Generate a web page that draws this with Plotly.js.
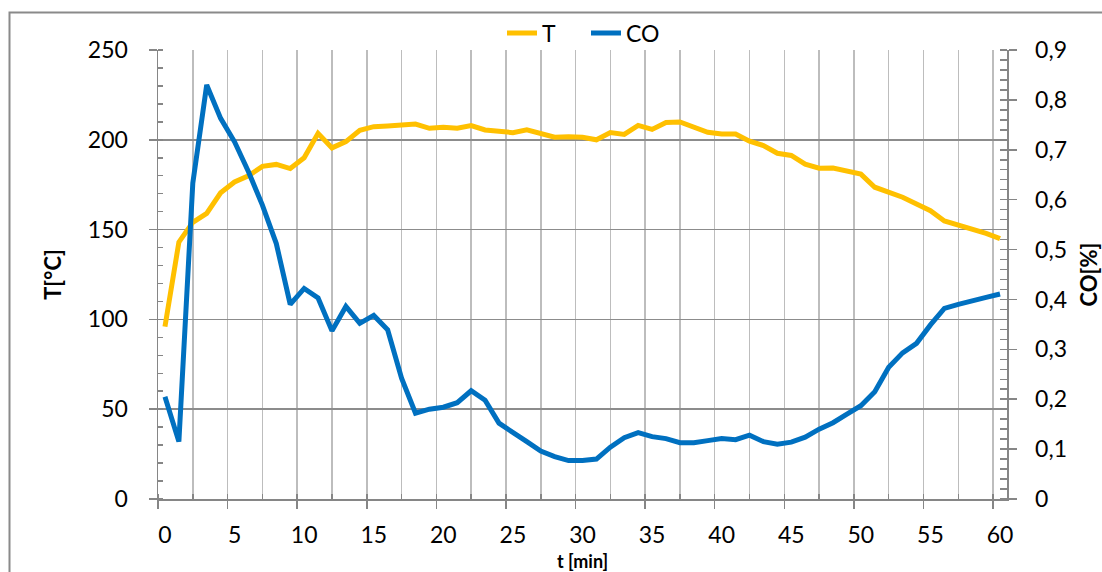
<!DOCTYPE html>
<html>
<head>
<meta charset="utf-8">
<script src="https://cdn.plot.ly/plotly-3.0.1.min.js"></script>
<style>
html,body{margin:0;padding:0;background:#fff;}
#chart{width:1102px;height:572px;}
</style>
</head>
<body>
<div id="chart"></div>
<script>
// time index (min)
const minutes = Array.from({length: 61}, (_, i) => i);
// tick labels shown on the time axis
const timeLabels = [0, 5, 10, 15, 20, 25, 30, 35, 40, 45, 50, 55, 60];
// temperature T [°C]
const tempT = [96, 143, 154, 159, 170.5, 176.5, 180, 185.2, 186.3, 184,
  190, 203.6, 195.5, 199, 205.3, 207.3, 207.7, 208, 208.8, 206.4,
  207, 206.5, 207.9, 205.5, 205, 204, 205.5, 203.2, 201.4, 201.7,
  201.4, 200, 204, 203, 208, 205.8, 209.6, 209.9, 207, 204.2,
  203.2, 203.2, 199.2, 196.8, 192.5, 191.3, 186.4, 184.2, 184.3, 182.4,
  180.9, 173.6, 171.1, 168, 164.3, 160.5, 154.8, 152.4, 150.7, 147.9, 145];
// CO concentration [%]
const coPct = [0.205, 0.115, 0.633, 0.830, 0.763, 0.716, 0.656, 0.589, 0.512, 0.390,
  0.422, 0.403, 0.337, 0.386, 0.352, 0.368, 0.339, 0.242, 0.172, 0.180,
  0.184, 0.193, 0.217, 0.198, 0.152, 0.132, 0.115, 0.096, 0.085, 0.077,
  0.077, 0.080, 0.104, 0.123, 0.133, 0.125, 0.121, 0.113, 0.113, 0.117,
  0.121, 0.119, 0.128, 0.115, 0.110, 0.114, 0.124, 0.140, 0.153, 0.170,
  0.187, 0.215, 0.264, 0.293, 0.312, 0.349, 0.382, 0.390, 0.396, 0.404, 0.411];
const seriesNames = ['T', 'CO'];
const xTitle = 't [min]';

const FONT = 'Lato, "Open Sans", sans-serif';
const AX = '#868686';
const L = 158, T = 50, W = 849, H = 449;

const traces = [
  {x: minutes, y: tempT, name: seriesNames[0], type: 'scatter', mode: 'lines',
   line: {color: '#FFC000', width: 5}, xaxis: 'x', yaxis: 'y', hoverinfo: 'skip'},
  {x: minutes, y: coPct, name: seriesNames[1], type: 'scatter', mode: 'lines',
   line: {color: '#0070C0', width: 5}, xaxis: 'x2', yaxis: 'y2', hoverinfo: 'skip'}
];

const layout = {
  width: 1102, height: 572,
  margin: {l: L, r: 1102 - L - W, t: T, b: 572 - T - H, pad: 0},
  paper_bgcolor: '#fff', plot_bgcolor: '#fff',
  separators: ', ',
  font: {family: FONT, size: 23, color: '#000'},
  showlegend: true,
  legend: {orientation: 'h', x: (502 - L) / W, xanchor: 'left', y: (499 - 33) / H, yanchor: 'middle',
           font: {family: FONT, size: 23, color: '#000'}, bgcolor: 'rgba(0,0,0,0)',
           entrywidth: 39, entrywidthmode: 'pixels', itemclick: false},
  xaxis: {
    range: [-0.5, 60.5], tick0: -0.5, dtick: 5, showticklabels: false,
    ticks: 'outside', ticklen: 8, tickwidth: 1.5, tickcolor: AX,
    showgrid: true, gridcolor: '#bdbdbd', gridwidth: 1.5,
    minor: {tick0: -0.5, dtick: 2.5, ticks: 'inside', ticklen: 5, tickwidth: 1.5, tickcolor: AX,
            showgrid: true, gridcolor: '#bdbdbd', gridwidth: 1.5},
    showline: true, linecolor: AX, linewidth: 1.5, zeroline: false, fixedrange: true
  },
  xaxis2: {
    overlaying: 'x', anchor: 'y', side: 'bottom', range: [-0.5, 60.5],
    tickmode: 'array', tickvals: timeLabels, ticktext: timeLabels.map(String),
    ticks: '', showgrid: false, showline: false, zeroline: false,
    ticklabelstandoff: 20, tickfont: {family: FONT, size: 23},
    fixedrange: true
  },
  yaxis: {
    range: [0, 250], dtick: 50, ticks: 'outside', ticklen: 8, tickwidth: 1.5, tickcolor: AX,
    showgrid: true, gridcolor: '#8c8c8c', gridwidth: 1.5,
    minor: {dtick: 10, ticks: 'inside', ticklen: 5, tickwidth: 1.5, tickcolor: AX, showgrid: false},
    showline: true, linecolor: AX, linewidth: 1.5, zeroline: false,
    ticklabelstandoff: 16, tickfont: {family: FONT, size: 23},
    title: {text: '<b>T[°C]</b>', font: {family: FONT, size: 22}, standoff: 20},
    fixedrange: true
  },
  yaxis2: {
    overlaying: 'y', side: 'right', anchor: 'x', range: [0, 0.9], dtick: 0.1,
    ticks: 'outside', ticklen: 8, tickwidth: 1.5, tickcolor: AX,
    minor: {dtick: 0.02, ticks: 'inside', ticklen: 7, tickwidth: 1.5, tickcolor: AX, showgrid: false},
    showgrid: false, showline: true, linecolor: AX, linewidth: 1.5, zeroline: false,
    ticklabelstandoff: 14, tickfont: {family: FONT, size: 23},
    title: {text: '<b>CO[%]</b>', font: {family: FONT, size: 22}, standoff: 30},
    fixedrange: true
  },
  annotations: [
    {text: '<b>' + xTitle + '</b>', xref: 'paper', yref: 'paper', x: (582 - L) / W, y: (T + H - 549) / H,
     xanchor: 'center', yanchor: 'top', showarrow: false, borderpad: 0,
     font: {family: FONT, size: 18, color: '#000'}}
  ],
  shapes: [
    {type: 'rect', xref: 'paper', yref: 'paper',
     x0: (9.5 - L) / W, x1: (1112 - L) / W, y0: (T + H - 590) / H, y1: (T + H - 12.5) / H,
     line: {color: '#8a8a8a', width: 2}, fillcolor: 'rgba(0,0,0,0)', layer: 'below'}
  ]
};

Plotly.newPlot('chart', traces, layout, {staticPlot: true, displayModeBar: false});
</script>
</body>
</html>
